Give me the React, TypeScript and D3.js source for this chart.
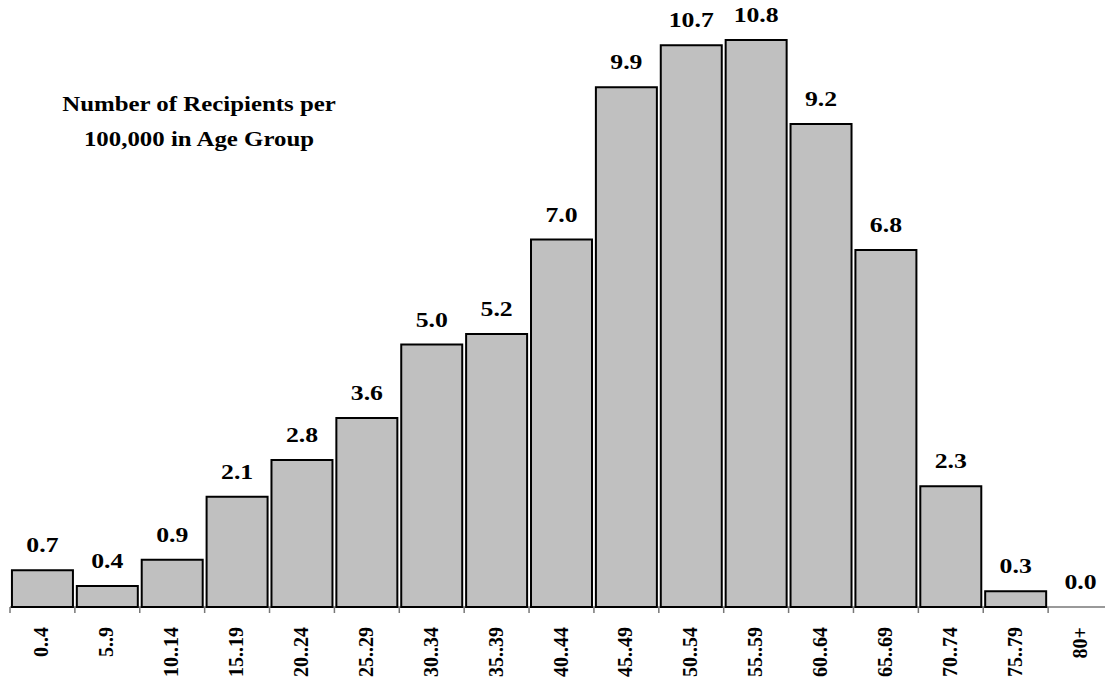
import React from "react";
import * as d3 from "d3";

const categories = ["0..4","5..9","10..14","15..19","20..24","25..29","30..34","35..39","40..44","45..49","50..54","55..59","60..64","65..69","70..74","75..79","80+"];
const values = [0.7,0.4,0.9,2.1,2.8,3.6,5.0,5.2,7.0,9.9,10.7,10.8,9.2,6.8,2.3,0.3,0.0];
const titleLines = ["Number of Recipients per","100,000 in Age Group"];

const W = 1105, H = 681;
const FONT = '"Liberation Serif", "Times New Roman", Times, serif';

export default function App() {
  const x = d3.scaleBand<string>().domain(categories).range([10, 1113]).paddingInner(0.06).paddingOuter(0.03);
  const y = d3.scaleLinear().domain([0, 10.8]).range([607, 40]);
  const step = x.step();
  const off = step * 0.03;
  const base = y(0);
  const ts = { fontFamily: FONT, fontWeight: 700 } as React.CSSProperties;
  return (
    <svg width={W} height={H} style={{ position: "absolute", left: 0, top: 0, background: "#fff" }}>
      <line x1={10} x2={W} y1={base} y2={base} stroke="#777" strokeWidth={1.5} />
      {categories.map((c, i) => (
        <line key={"t" + i} x1={(x(c) as number) - off} x2={(x(c) as number) - off} y1={base} y2={base + 6} stroke="#777" strokeWidth={1.5} />
      ))}
      <line x1={(x(categories[categories.length - 1]) as number) + x.bandwidth() + off} x2={(x(categories[categories.length - 1]) as number) + x.bandwidth() + off} y1={base} y2={base + 6} stroke="#777" strokeWidth={1.5} />
      {categories.map((c, i) => values[i] > 0 ? (
        <rect key={"b" + i} x={x(c)} y={y(values[i])} width={x.bandwidth()} height={base - y(values[i])} fill="#c0c0c0" stroke="#000" strokeWidth={2} />
      ) : null)}
      {categories.map((c, i) => {
        const cx = (x(c) as number) + x.bandwidth() / 2;
        const ty = y(values[i]) - 18;
        return (
          <text key={"v" + i} transform={`translate(${cx},${ty}) scale(1.17,1)`} textAnchor="middle" style={{ ...ts, fontSize: 22 }} fill="#000">
            {values[i].toFixed(1)}
          </text>
        );
      })}
      {categories.map((c, i) => {
        const cx = (x(c) as number) + x.bandwidth() / 2;
        return (
          <text key={"l" + i} transform={`translate(${cx + 6},627) rotate(-90)`} textAnchor="end" style={{ ...ts, fontSize: 20 }} fill="#000">
            {c}
          </text>
        );
      })}
      {titleLines.map((t, i) => (
        <text key={"h" + i} transform={`translate(199,${111 + i * 35}) scale(1.13,1)`} textAnchor="middle" style={{ ...ts, fontSize: 22 }} fill="#000">
          {t}
        </text>
      ))}
    </svg>
  );
}
